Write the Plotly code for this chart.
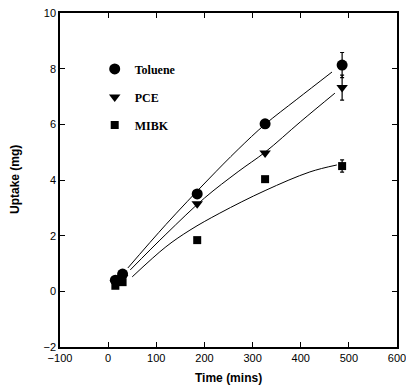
import plotly.graph_objects as go

# Measured data
time_min = [15, 30, 185, 326, 486]
toluene = [0.40, 0.62, 3.50, 6.02, 8.13]
pce = [0.30, 0.50, 3.15, 4.97, 7.32]
mibk = [0.20, 0.33, 1.84, 4.03, 4.50]
toluene_err = [0, 0, 0, 0, 0.45]
pce_err = [0, 0, 0, 0, 0.45]
mibk_err = [0, 0, 0, 0, 0.22]

# Fitted curves
tol_fit_x = [41, 120, 207, 270, 326, 392, 465]
tol_fit_y = [0.84, 2.40, 4.00, 5.10, 6.00, 6.90, 7.88]
pce_fit_x = [46, 120, 200, 270, 326, 400, 471]
pce_fit_y = [0.77, 2.05, 3.35, 4.30, 5.00, 6.10, 7.12]
mibk_fit_x = [50, 120, 170, 232, 326, 419, 475]
mibk_fit_y = [0.52, 1.60, 2.20, 2.81, 3.62, 4.29, 4.54]

x_ticks = [-100, 0, 100, 200, 300, 400, 500, 600]
x_tick_text = ["\u2212100", "0", "100", "200", "300", "400", "500", "600"]
y_ticks = [-2, 0, 2, 4, 6, 8, 10]
y_tick_text = ["\u22122", "0", "2", "4", "6", "8", "10"]

names = ["Toluene", "PCE", "MIBK"]
symbols = ["circle", "triangle-down", "square"]
sizes = [11, 10, 8]

fig = go.Figure()

for fx, fy in [(tol_fit_x, tol_fit_y), (pce_fit_x, pce_fit_y), (mibk_fit_x, mibk_fit_y)]:
    fig.add_trace(go.Scatter(x=fx, y=fy, mode="lines", line=dict(color="black", width=1, shape="spline"),
                             showlegend=False, hoverinfo="skip"))

for i, (ys, err) in enumerate([(toluene, toluene_err), (pce, pce_err), (mibk, mibk_err)]):
    fig.add_trace(go.Scatter(
        x=time_min, y=ys, mode="markers", name="<b>" + names[i] + "</b>", legendgroup=names[i],
        marker=dict(symbol=symbols[i], size=sizes[i], color="black"),
        error_y=dict(type="data", array=err, visible=True, color="black", thickness=1.2, width=2),
    ))

axis_common = dict(
    showline=True, linecolor="#000000", linewidth=1.5, mirror="ticks",
    ticks="inside", ticklen=5, tickcolor="#000000", showgrid=False, zeroline=False,
    automargin=False, ticklabeloverflow="allow",
    tickfont=dict(family="Liberation Sans, Arial", size=11, color="#000000"),
)

fig.update_layout(
    width=406, height=382,
    margin=dict(l=52, r=17, t=5, b=43),
    paper_bgcolor="white", plot_bgcolor="white",
    font=dict(color="#000000"),
    xaxis=dict(range=[-100, 600], tickvals=x_ticks, ticktext=x_tick_text, **axis_common),
    yaxis=dict(range=[-2, 10], tickvals=y_ticks, ticktext=y_tick_text, **axis_common),
    legend=dict(x=0.103, y=0.876, xanchor="left", yanchor="top", bgcolor="rgba(0,0,0,0)",
                tracegroupgap=9, itemwidth=30,
                font=dict(family="Liberation Serif, Times New Roman", size=12, color="#000000")),
    showlegend=True,
    annotations=[
        dict(text="<b>Time (mins)</b>", xref="paper", yref="paper", x=0.5, y=0, yshift=-31,
             xanchor="center", yanchor="middle", showarrow=False,
             font=dict(family="Liberation Sans, Arial", size=12, color="#000000")),
        dict(text="<b>Uptake (mg)</b>", xref="paper", yref="paper", x=0, y=0.5, xshift=-45,
             xanchor="center", yanchor="middle", textangle=-90, showarrow=False,
             font=dict(family="Liberation Sans, Arial", size=12, color="#000000")),
    ],
)

fig.write_html("out.html")
